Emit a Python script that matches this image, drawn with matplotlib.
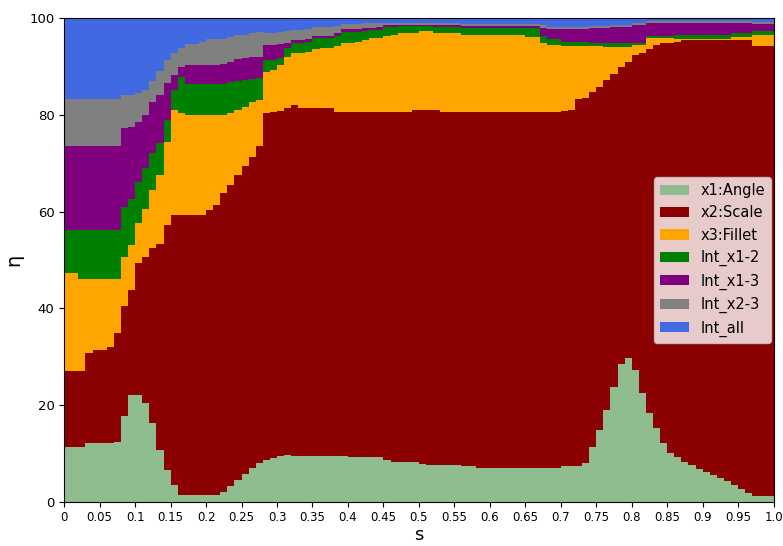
import numpy as np
import matplotlib
matplotlib.use("Agg")
import matplotlib.pyplot as plt

# s grid (0.01 steps)
s = np.round(np.arange(0, 1.001, 0.01), 2)

x1_angle = [11.4, 11.4, 11.4, 12.1, 12.1, 12.1, 12.1, 12.4, 17.8, 22.1,
            22.1, 20.5, 16.3, 10.7, 6.6, 3.5, 1.5, 1.5, 1.5, 1.5,
            1.5, 1.5, 2.1, 3.2, 4.6, 5.8, 7.0, 8.0, 8.7, 9.0,
            9.5, 9.6, 9.5, 9.4, 9.4, 9.4, 9.4, 9.4, 9.4, 9.4,
            9.2, 9.2, 9.2, 9.2, 9.2, 8.7, 8.3, 8.3, 8.3, 8.3,
            7.9, 7.5, 7.5, 7.5, 7.5, 7.5, 7.3, 7.3, 7.0, 7.0,
            7.0, 7.0, 7.0, 7.0, 7.0, 7.0, 7.0, 7.0, 7.0, 7.0,
            7.3, 7.3, 7.3, 8.0, 11.4, 14.9, 19.0, 23.8, 28.5, 29.7,
            27.3, 22.5, 18.3, 15.3, 12.2, 10.0, 9.2, 8.2, 7.5, 6.8,
            6.2, 5.6, 5.0, 4.3, 3.5, 2.7, 1.9, 1.2, 1.2, 1.2,
            1.2]

x2_scale = [15.7, 15.7, 15.7, 18.6, 19.3, 19.3, 19.9, 22.5, 22.6, 21.7,
            27.2, 30.2, 36.1, 42.6, 50.6, 55.8, 57.8, 57.8, 57.8, 57.8,
            58.8, 59.9, 61.7, 62.3, 63.0, 63.7, 64.3, 65.5, 71.6, 71.6,
            71.3, 71.9, 72.5, 72.1, 71.9, 71.9, 71.9, 71.9, 71.2, 71.2,
            71.4, 71.4, 71.4, 71.4, 71.4, 71.9, 72.3, 72.3, 72.3, 72.6,
            73.0, 73.5, 73.4, 73.1, 73.1, 73.1, 73.3, 73.3, 73.6, 73.6,
            73.6, 73.6, 73.6, 73.6, 73.6, 73.6, 73.6, 73.6, 73.6, 73.6,
            73.5, 73.7, 75.9, 75.5, 73.4, 70.9, 68.2, 64.6, 61.3, 61.3,
            65.1, 70.3, 75.2, 79.2, 82.6, 84.8, 85.8, 87.3, 88.0, 88.7,
            89.3, 89.9, 90.5, 91.2, 92.0, 92.8, 93.6, 93.0, 93.0, 93.0,
            93.0]

x3_fillet = [20.1, 20.1, 18.9, 15.3, 14.6, 14.6, 14.0, 11.1, 10.3, 9.2,
             8.3, 9.8, 12.1, 14.2, 17.2, 21.7, 21.1, 20.7, 20.7, 20.7,
             19.7, 18.6, 16.2, 14.9, 13.4, 12.1, 11.4, 9.5, 8.6, 8.6,
             9.5, 10.5, 10.8, 11.3, 11.7, 12.2, 12.4, 12.4, 13.7, 14.2,
             14.2, 14.4, 14.9, 15.2, 15.2, 15.7, 15.9, 16.2, 16.2, 16.1,
             16.4, 16.3, 16.1, 16.4, 16.4, 16.4, 15.9, 15.9, 15.9, 15.9,
             15.9, 15.9, 15.9, 15.9, 15.9, 15.5, 15.5, 14.2, 13.8, 13.8,
             13.4, 13.2, 11.0, 10.7, 9.4, 8.4, 6.9, 5.7, 4.3, 3.1,
             2.0, 1.6, 2.3, 1.3, 1.0, 1.0, 0.7, 0.2, 0.2, 0.2,
             0.2, 0.2, 0.2, 0.2, 0.5, 0.5, 0.5, 2.3, 2.3, 2.3,
             2.3]

int_x12 = [9.0, 9.0, 10.2, 10.2, 10.2, 10.2, 10.2, 10.2, 10.3, 9.5,
           8.4, 8.4, 7.5, 6.6, 4.5, 4.1, 7.5, 6.4, 6.4, 6.4,
           6.4, 6.4, 6.4, 6.4, 6.0, 5.6, 4.6, 4.5, 2.4, 2.1,
           1.5, 1.7, 2.0, 2.0, 2.0, 2.3, 2.1, 2.1, 2.0, 2.4,
           2.4, 2.2, 1.9, 1.7, 1.8, 1.9, 1.7, 1.5, 1.5, 1.3,
           1.1, 1.1, 1.2, 1.2, 1.2, 1.2, 1.4, 1.4, 1.4, 1.4,
           1.4, 1.4, 1.4, 1.4, 1.4, 1.8, 1.8, 1.5, 1.2, 1.2,
           0.9, 0.9, 0.9, 0.9, 0.7, 0.7, 0.7, 0.7, 0.7, 0.7,
           0.4, 0.4, 0.5, 0.5, 0.5, 0.5, 0.8, 0.8, 0.8, 0.8,
           0.8, 0.8, 0.8, 0.8, 0.8, 0.8, 0.8, 0.8, 0.8, 0.8,
           0.8]

int_x13 = [17.4, 17.4, 17.4, 17.4, 17.4, 17.4, 17.4, 17.4, 16.2, 15.0,
           12.6, 11.1, 10.7, 10.0, 7.6, 3.1, 2.0, 3.9, 3.9, 3.9,
           3.9, 3.9, 4.1, 4.2, 4.5, 4.6, 4.7, 4.5, 3.1, 3.1,
           2.8, 1.1, 0.7, 0.7, 0.6, 0.5, 0.5, 0.5, 0.5, 0.5,
           0.5, 0.5, 0.5, 0.5, 0.5, 0.4, 0.4, 0.3, 0.3, 0.3,
           0.2, 0.2, 0.4, 0.4, 0.4, 0.4, 0.4, 0.4, 0.4, 0.4,
           0.4, 0.4, 0.4, 0.4, 0.4, 0.4, 0.4, 1.6, 2.1, 2.1,
           2.6, 2.7, 2.7, 2.7, 3.0, 3.0, 3.1, 3.3, 3.3, 3.3,
           3.8, 3.8, 2.7, 2.7, 2.7, 2.7, 2.5, 2.5, 2.5, 2.5,
           2.5, 2.5, 2.5, 2.5, 2.2, 2.2, 2.2, 1.5, 1.5, 1.5,
           1.5]

int_x23 = [9.6, 9.6, 9.6, 9.6, 9.6, 9.6, 9.6, 9.6, 6.9, 6.6,
           5.9, 5.1, 4.3, 4.9, 4.9, 4.6, 3.8, 4.3, 4.3, 4.7,
           5.4, 5.4, 5.2, 5.0, 5.0, 4.7, 4.8, 5.2, 2.6, 2.6,
           2.6, 2.6, 2.1, 2.1, 2.1, 1.9, 1.9, 1.9, 1.6, 1.1,
           1.1, 1.1, 1.0, 1.0, 0.9, 0.4, 0.4, 0.4, 0.4, 0.4,
           0.3, 0.3, 0.3, 0.3, 0.3, 0.3, 0.5, 0.5, 0.5, 0.5,
           0.5, 0.5, 0.5, 0.5, 0.5, 0.5, 0.5, 0.7, 0.5, 0.4,
           0.4, 0.4, 0.4, 0.4, 0.4, 0.4, 0.5, 0.5, 0.5, 0.5,
           0.3, 0.3, 0.4, 0.4, 0.4, 0.4, 0.4, 0.4, 0.4, 0.4,
           0.4, 0.4, 0.4, 0.4, 0.4, 0.4, 0.4, 0.4, 0.4, 0.4,
           0.4]

int_all = [16.8, 16.8, 16.8, 16.8, 16.8, 16.8, 16.8, 16.8, 15.9, 15.9,
           15.5, 14.9, 13.0, 11.0, 8.6, 7.2, 6.3, 5.4, 5.4, 5.0,
           4.3, 4.3, 4.3, 4.0, 3.5, 3.5, 3.2, 2.8, 3.0, 3.0,
           2.8, 2.6, 2.4, 2.4, 2.3, 1.8, 1.8, 1.8, 1.6, 1.2,
           1.2, 1.2, 1.1, 1.0, 1.0, 1.0, 1.0, 1.0, 1.0, 1.0,
           1.1, 1.1, 1.1, 1.1, 1.1, 1.1, 1.2, 1.2, 1.2, 1.2,
           1.2, 1.2, 1.2, 1.2, 1.2, 1.2, 1.2, 1.4, 1.8, 1.9,
           1.9, 1.8, 1.8, 1.8, 1.7, 1.7, 1.6, 1.4, 1.4, 1.4,
           1.1, 1.1, 0.6, 0.6, 0.6, 0.6, 0.6, 0.6, 0.6, 0.6,
           0.6, 0.6, 0.6, 0.6, 0.6, 0.6, 0.6, 0.8, 0.8, 0.8,
           0.8]

labels = ["x1:Angle", "x2:Scale", "x3:Fillet", "Int_x1-2", "Int_x1-3", "Int_x2-3", "Int_all"]
colors = ["darkseagreen", "darkred", "orange", "green", "purple", "gray", "royalblue"]

xticks = np.round(np.arange(0, 1.001, 0.05), 2)
xtick_labels = ["0", "0.05", "0.1", "0.15", "0.2", "0.25", "0.3", "0.35", "0.4", "0.45", "0.5",
                "0.55", "0.6", "0.65", "0.7", "0.75", "0.8", "0.85", "0.9", "0.95", "1.0"]

fig = plt.figure(figsize=(7.83, 5.46), dpi=100)
ax = fig.add_axes([0.082, 0.081, 0.906, 0.886])
ax.stackplot(s, x1_angle, x2_scale, x3_fillet, int_x12, int_x13, int_x23, int_all,
             labels=labels, colors=colors, step="post")
ax.set_xlim(0, 1)
ax.set_ylim(0, 100)
ax.set_xticks(xticks)
ax.set_xticklabels(xtick_labels, fontsize=8.5)
ax.tick_params(axis="y", labelsize=9.5)
ax.set_xlabel("s", fontsize=13, labelpad=1)
ax.set_ylabel("η", fontsize=14)
ax.legend(loc="center right", fontsize=10.5, borderaxespad=0.15)
fig.savefig("out.png", dpi=100)
